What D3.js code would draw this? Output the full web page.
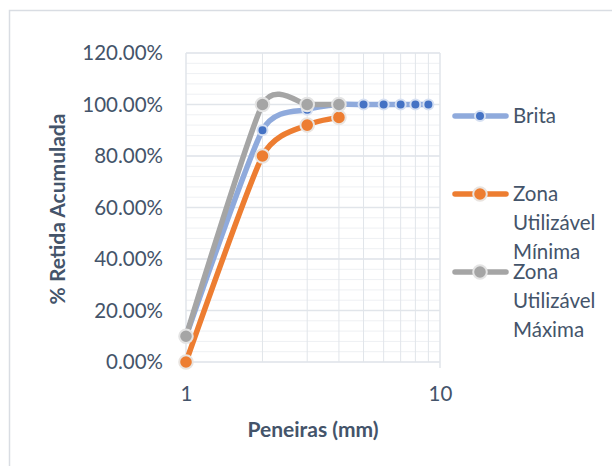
<!DOCTYPE html>
<html>
<head>
<meta charset="utf-8">
<script src="https://cdn.jsdelivr.net/npm/d3@7"></script>
<style>
  body { margin: 0; background: #fff; }
  svg { display: block; font-family: Lato, "Open Sans", sans-serif; }
</style>
</head>
<body>
<svg id="chart" width="612" height="466"></svg>
<script>
(function(){
'use strict';

    // sieve sizes (mm) and cumulative retained fraction
    var britaX    = [1, 2, 3, 4, 5, 6, 7, 8, 9];
    var britaY    = [0.10, 0.90, 0.98, 1.00, 1.00, 1.00, 1.00, 1.00, 1.00];
    var minimaX   = [1, 2, 3, 4];
    var minimaY   = [0.00, 0.80, 0.92, 0.95];
    var maximaX   = [1, 2, 3, 4];
    var maximaY   = [0.10, 1.00, 1.00, 1.00];
    var yTicks    = [0, 0.2, 0.4, 0.6, 0.8, 1.0, 1.2];
    var xTicks    = [1, 10];
    var seriesNames = ['Brita', 'Zona Utilizável Mínima', 'Zona Utilizável Máxima'];

    var series = [
        {name: seriesNames[0], xs: britaX,  ys: britaY,  line: '#8FAADC', dot: '#4472C4', r: 5,   halo: '#d6e0f2'},
        {name: seriesNames[1], xs: minimaX, ys: minimaY, line: '#ED7D31', dot: '#ED7D31', r: 6.8, halo: '#e9e4e0'},
        {name: seriesNames[2], xs: maximaX, ys: maximaY, line: '#A5A5A5', dot: '#A5A5A5', r: 6.8, halo: '#e4e4e4'}
    ];

    var textColor = '#44546A',
        gridColor = '#e1e5ea',
        minorColor = '#eef0f3';

    var svg = d3.select('#chart');

    // outer chart frame
    svg.append('rect')
        .attr('x', 9.5).attr('y', 10.5)
        .attr('width', 640).attr('height', 500)
        .attr('fill', 'none')
        .attr('stroke', '#d9dde3')
        .attr('stroke-width', 1.5);

    var plot = {left: 186, right: 440, top: 53, bottom: 362};

    var x = d3.scaleLog().domain([1, 10]).range([plot.left, plot.right]);
    var y = d3.scaleLinear().domain([0, 1.2]).range([plot.bottom, plot.top]);

    var grid = svg.append('g').attr('class', 'grid');

    // minor horizontal gridlines every 4%
    d3.range(0, 1.2001, 0.04).forEach(function(v) {
        grid.append('line')
            .attr('x1', plot.left).attr('x2', plot.right)
            .attr('y1', y(v)).attr('y2', y(v))
            .attr('stroke', minorColor).attr('stroke-width', 1);
    });

    // vertical log gridlines
    d3.range(2, 10).forEach(function(v) {
        grid.append('line')
            .attr('x1', x(v)).attr('x2', x(v))
            .attr('y1', plot.top).attr('y2', plot.bottom)
            .attr('stroke', gridColor).attr('stroke-width', 1);
    });

    // major horizontal gridlines
    yTicks.forEach(function(v) {
        grid.append('line')
            .attr('x1', plot.left).attr('x2', plot.right)
            .attr('y1', y(v)).attr('y2', y(v))
            .attr('stroke', gridColor).attr('stroke-width', 1.5);
    });

    grid.append('line')
        .attr('x1', plot.left).attr('x2', plot.left)
        .attr('y1', plot.top).attr('y2', plot.bottom)
        .attr('stroke', gridColor).attr('stroke-width', 1.5);
    grid.append('line')
        .attr('x1', plot.right).attr('x2', plot.right)
        .attr('y1', plot.top).attr('y2', plot.bottom + 6)
        .attr('stroke', gridColor).attr('stroke-width', 1.5);

    // axes labels via d3 axes, lines hidden
    var yAxis = d3.axisLeft(y).tickValues(yTicks).tickSize(0).tickPadding(23)
        .tickFormat(function(d) { return (d * 100).toFixed(2) + '%'; });
    var yg = svg.append('g').attr('transform', 'translate(' + plot.left + ',0)').call(yAxis);
    yg.select('.domain').remove();
    yg.selectAll('text').attr('fill', textColor).style('font-size', '20.5px').style('font-family', 'Lato, sans-serif');

    var xAxis = d3.axisBottom(x).tickValues(xTicks).tickSize(0).tickPadding(24)
        .tickFormat(d3.format('d'));
    var xg = svg.append('g').attr('transform', 'translate(0,' + plot.bottom + ')').call(xAxis);
    xg.select('.domain').remove();
    xg.selectAll('text').attr('fill', textColor).style('font-size', '20.5px').style('font-family', 'Lato, sans-serif');

    svg.append('text')
        .attr('transform', 'translate(65,209) rotate(-90)')
        .attr('text-anchor', 'middle')
        .attr('fill', textColor)
        .style('font-size', '21px').style('font-weight', 'bold')
        .text('% Retida Acumulada');

    svg.append('text')
        .attr('x', 313).attr('y', 437)
        .attr('text-anchor', 'middle')
        .attr('fill', textColor)
        .style('font-size', '21px').style('font-weight', 'bold')
        .text('Peneiras (mm)');

    var line = d3.line()
        .x(function(d) { return x(d[0]); })
        .y(function(d) { return y(d[1]); })
        .curve(d3.curveCardinal.tension(0.4));

    series.forEach(function(s) {
        var pts = s.xs.map(function(v, i) { return [v, s.ys[i]]; });
        svg.append('path')
            .datum(pts)
            .attr('d', line)
            .attr('fill', 'none')
            .attr('stroke', s.line)
            .attr('stroke-width', 5.5)
            .attr('stroke-linecap', 'round');
        svg.selectAll(null).data(pts).enter().append('circle')
            .attr('cx', function(d) { return x(d[0]); })
            .attr('cy', function(d) { return y(d[1]); })
            .attr('r', s.r)
            .attr('fill', s.dot)
            .attr('stroke', s.halo)
            .attr('stroke-width', 2);
    });

    // legend
    var legendRows = [
        {s: series[0], y: 116, lines: ['Brita']},
        {s: series[1], y: 194, lines: ['Zona', 'Utilizável', 'Mínima']},
        {s: series[2], y: 272, lines: ['Zona', 'Utilizável', 'Máxima']}
    ];
    legendRows.forEach(function(row) {
        var g = svg.append('g');
        g.append('line')
            .attr('x1', 455).attr('x2', 506)
            .attr('y1', row.y).attr('y2', row.y)
            .attr('stroke', row.s.line).attr('stroke-width', 5.5)
            .attr('stroke-linecap', 'round');
        g.append('circle')
            .attr('cx', 480).attr('cy', row.y)
            .attr('r', row.s.r)
            .attr('fill', row.s.dot)
            .attr('stroke', row.s.halo).attr('stroke-width', 2);
        row.lines.forEach(function(t, i) {
            g.append('text')
                .attr('x', 513).attr('y', row.y + i * 29)
                .attr('dy', '0.35em')
                .attr('fill', textColor)
                .style('font-size', '20.5px')
                .text(t);
        });
    });

})();
</script>
</body>
</html>
